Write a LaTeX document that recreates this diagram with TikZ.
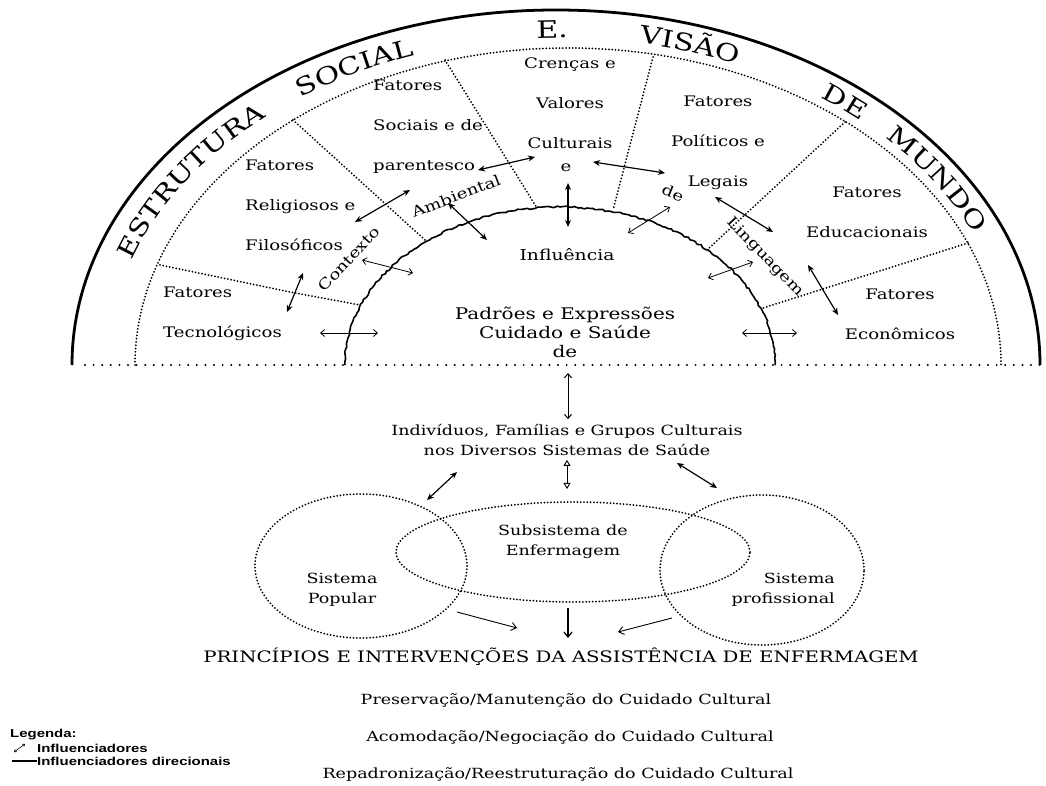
\documentclass[tikz,border=0pt]{standalone}
\usepackage{fontspec}
\setmainfont{DejaVu Serif}[FakeStretch=1.25]
\newfontfamily\legendfont{Liberation Sans}[FakeStretch=1.3]
\usetikzlibrary{arrows.meta,shapes.geometric,calc,decorations.text,decorations.pathmorphing}

\newcommand{\bigword}{\fontsize{24}{26}\selectfont}

\begin{document}
\begin{tikzpicture}[
  x=1pt, y=1pt,
  rim/.style={line width=2.8pt},
  ring/.style={dash pattern=on 0pt off 3.3pt, line cap=round, line width=2pt},
  rough/.style={decorate, decoration={random steps, segment length=3pt, amplitude=.9pt}, line width=1.6pt},
  base/.style={dash pattern=on 0pt off 8.6pt, line cap=round, line width=2.2pt},
  dbl/.style={{Stealth[length=7pt,width=6pt]}-{Stealth[length=7pt,width=6pt]}, line width=1.2pt},
  cross/.style={{Straight Barb[length=4pt,width=7pt]}-{Straight Barb[length=4pt,width=7pt]}, line width=.8pt},
  hollow/.style={{Triangle[open,length=6pt,width=7pt]}-{Triangle[open,length=6pt,width=7pt]}, line width=.9pt},
  toward/.style={-{Straight Barb[length=5pt,width=8pt]}, line width=.9pt},
  outerword/.style={decorate, decoration={text along path, text align=center, text={|\bigword|#1}}},
  arcword/.style={font=\fontsize{14.5}{16}\selectfont, inner sep=0pt},
  sector/.style={font=\fontsize{14.5}{40}\selectfont, inner sep=0pt},
  caption/.style={font=\fontsize{14}{20}\selectfont, inner sep=0pt},
  legend/.style={font=\legendfont\bfseries\fontsize{11.5}{13}\selectfont, inner sep=0pt, anchor=west}
]
\useasboundingbox (0,0) rectangle (1046,785);
\pgfmathsetseed{7}
\coordinate (c) at (560,420);

% rings of the half sun
\draw[rim] (72,420) arc[start angle=180, end angle=0, x radius=484, y radius=355];
\draw[ring] (135,420) arc[start angle=180, end angle=0, x radius=433, y radius=317];
\draw[rough] (345,420) arc[start angle=180, end angle=0, x radius=215, y radius=158];
\draw[base] (85,420) -- (1040,420);

% sector borders
\draw[ring] (160,520) -- (290,493) -- (360,480);
\draw[ring] (293,665) -- (425,545);
\draw[ring] (445,725) -- (537,577);
\draw[ring] (653,728) -- (613,575);
\draw[ring] (845,663) -- (707,535);
\draw[ring] (968,542) -- (763,477);

% words on the outer band
\path[outerword=ESTRUTURA] ($(c)+(168:452 and 327)$) arc[start angle=168, end angle=125, x radius=452, y radius=327];
\path[outerword=SOCIAL] ($(c)+(137.5:452 and 327)$) arc[start angle=137.5, end angle=97.5, x radius=452, y radius=327];
\path[outerword=E.] ($(c)+(106:452 and 327)$) arc[start angle=106, end angle=76, x radius=452, y radius=327];
\path[outerword=VISÃO] ($(c)+(93:452 and 327)$) arc[start angle=93, end angle=53, x radius=452, y radius=327];
\path[outerword=DE] ($(c)+(66:452 and 327)$) arc[start angle=66, end angle=36, x radius=452, y radius=327];
\path[outerword=MUNDO] ($(c)+(53:452 and 327)$) arc[start angle=53, end angle=13, x radius=452, y radius=327];

% words along the inner arc
\node[arcword, rotate=47] (ctx) at (349,526) {Contexto};
\node[arcword, rotate=21] (amb) at (456,589) {Ambiental};
\node[arcword, rotate=-22] (dew) at (673,592) {de};
\node[arcword, rotate=-46] (ling) at (765,528) {Linguagem};

% factors
\node[sector, anchor=west, align=left] (tecno) at (163,471) {Fatores\\Tecnológicos};
\node[sector, anchor=west, align=left] (relig) at (245,580) {Fatores\\Religiosos e\\Filosóficos};
\node[sector, anchor=west, align=left] (socia) at (373,658) {Fatores\\Sociais e de\\parentesco};
\node[sector, align=center] (crenc) at (570,682) {Crenças e\\Valores\\Culturais};
\node[sector] (conj) at (566,617) {e};
\node[sector, align=center] (polit) at (718,642) {Fatores\\Políticos e\\Legais};
\node[sector, align=center] (educ) at (867,573) {Fatores\\Educacionais};
\node[sector, align=center] (econ) at (900,471) {Fatores\\Econômicos};

% inside the inner arc
\node[font=\fontsize{15}{19}\selectfont, inner sep=0pt] (influ) at (567,530) {Influência};
\node[font=\fontsize{16}{19}\selectfont, inner sep=0pt, align=center] (padr) at (565,453) {Padrões e Expressões\\Cuidado e Saúde\\de};

% influences across the sectors
\coordinate (t1a) at (287,473);  \coordinate (t1b) at (303,512);
\coordinate (t2a) at (320,452);  \coordinate (t2b) at (378,452);
\coordinate (t3a) at (355,563);  \coordinate (t3b) at (410,595);
\coordinate (t4a) at (362,525);  \coordinate (t4b) at (413,512);
\coordinate (t5a) at (448,582);  \coordinate (t5b) at (487,545);
\coordinate (t6a) at (478,615);  \coordinate (t6b) at (535,628);
\coordinate (t7a) at (568,602);  \coordinate (t7b) at (568,558);
\coordinate (t8a) at (593,623);  \coordinate (t8b) at (665,612);
\coordinate (t9a) at (670,578);  \coordinate (t9b) at (628,552);
\coordinate (t10a) at (715,588); \coordinate (t10b) at (773,553);
\coordinate (t11a) at (753,523); \coordinate (t11b) at (708,507);
\coordinate (t12a) at (808,520); \coordinate (t12b) at (838,470);
\coordinate (t13a) at (742,452); \coordinate (t13b) at (797,452);
\draw[dbl] (t1a) -- (t1b);
\draw[cross] (t2a) -- (t2b);
\draw[dbl] (t3a) -- (t3b);
\draw[cross] (t4a) -- (t4b);
\draw[dbl] (t5a) -- (t5b);
\draw[dbl] (t6a) -- (t6b);
\draw[dbl] (t7a) -- (t7b);
\draw[dbl] (t8a) -- (t8b);
\draw[cross] (t9a) -- (t9b);
\draw[dbl] (t10a) -- (t10b);
\draw[cross] (t11a) -- (t11b);
\draw[dbl] (t12a) -- (t12b);
\draw[cross] (t13a) -- (t13b);

% health systems
\node[caption, align=center] (indiv) at (567,345) {Indivíduos, Famílias e Grupos Culturais\\nos Diversos Sistemas de Saúde};
\node[ring, draw, ellipse, minimum width=212, minimum height=144] (popular) at (361,219) {};
\node[ring, draw, ellipse, minimum width=354, minimum height=100] (subsis) at (573,233) {};
\node[ring, draw, ellipse, minimum width=204, minimum height=150] (profis) at (762,215) {};
\node[caption, align=center] (poplbl) at (342,195) {Sistema\\Popular};
\node[caption, align=center] (sublbl) at (563,243) {Subsistema de\\Enfermagem};
\node[caption, align=right, anchor=east] (proflbl) at (835,195) {Sistema\\profissional};

\coordinate (b1) at (568,412);
\coordinate (l1) at (457,313); \coordinate (l2) at (427,285);
\coordinate (r1) at (677,322); \coordinate (r2) at (717,297);
\draw[cross, line width=1pt, shorten >=5pt] (b1) -- (b1 |- indiv.north);
\draw[hollow, shorten <=4pt, shorten >=12pt] (indiv.south) -- (indiv.south |- subsis.north);
\draw[dbl] (l1) -- (l2);
\draw[dbl] (r1) -- (r2);

% nursing care
\node[font=\fontsize{15.8}{18}\selectfont, inner sep=0pt] (princ) at (561,128) {PRINCÍPIOS E INTERVENÇÕES DA ASSISTÊNCIA DE ENFERMAGEM};
\node[caption] (pres) at (566,85) {Preservação/Manutenção do Cuidado Cultural};
\node[caption] (acom) at (570,47) {Acomodação/Negociação do Cuidado Cultural};
\node[caption] (repad) at (558,10) {Repadronização/Reestruturação do Cuidado Cultural};

\coordinate (p1) at (457,173); \coordinate (p2) at (517,157);
\coordinate (m1) at (568,177);
\coordinate (q1) at (672,167); \coordinate (q2) at (618,153);
\draw[toward] (p1) -- (p2);
\draw[toward, line width=1.2pt, shorten >=10pt] (m1) -- (m1 |- princ.north);
\draw[toward] (q1) -- (q2);

% legend
\node[legend] (leg) at (10,50) {Legenda:};
\node[legend] (legA) at (37,37) {Influenciadores};
\node[legend] (legB) at (37,24) {Influenciadores direcionais};
\coordinate (s1) at (14,33); \coordinate (s2) at (25,41);
\coordinate (s3) at (12,24);
\draw[{Straight Barb[length=2pt,width=3pt]}-{Straight Barb[length=2pt,width=3pt]}, line width=.6pt] (s1) -- (s2);
\draw[line width=2pt] (s3) -- (legB.west);
\end{tikzpicture}
\end{document}
